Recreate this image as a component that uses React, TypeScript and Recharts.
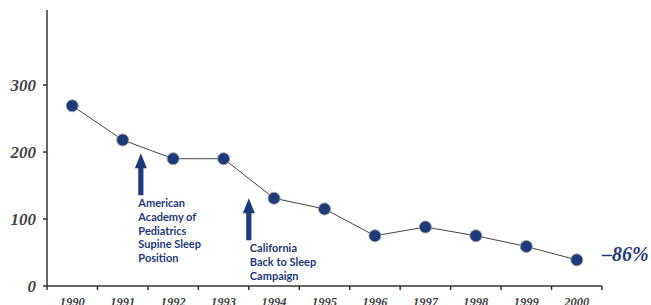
import React from 'react';
import { LineChart, Line, XAxis, YAxis, ReferenceDot } from 'recharts';

const years = ['1990', '1991', '1992', '1993', '1994', '1995', '1996', '1997', '1998', '1999', '2000'];
const deaths = [269, 218, 190, 190, 131, 115, 75, 88, 75, 59, 39];
const yTicks = [0, 100, 200, 300];

const annotationPos = [1.86, 4.0];
const annotationTip = [198, 131];
const annotationText = [
  ['American', 'Academy of', 'Pediatrics', 'Supine Sleep', 'Position'],
  ['California', 'Back to Sleep', 'Campaign'],
];
const changeLabel = '–86%';

const data = years.map((y, i) => ({ year: y, value: deaths[i], pos: i + 0.5 }));

const NAVY = '#1d3a7a';
const AXIS = '#333333';
const SERIF = '"Liberation Serif", "DejaVu Serif", serif';
const SANS = 'Lato, "Open Sans", sans-serif';

const YearTick = (props: any) => {
  const { x, y, payload, index, visibleTicksCount } = props;
  const off = payload.offset || 0;
  const axisY = y - 11;
  return (
    <g>
      <line x1={x - off} y1={axisY} x2={x - off} y2={axisY + 4} stroke={AXIS} strokeWidth={1.5} />
      {index === visibleTicksCount - 1 && (
        <line x1={x + off} y1={axisY} x2={x + off} y2={axisY + 4} stroke={AXIS} strokeWidth={1.5} />
      )}
      <text x={x} y={y} dy="0.71em" textAnchor="middle" fontFamily={SERIF} fontStyle="italic" fontWeight="bold" fontSize={12.5} fill="#444">
        {payload.value}
      </text>
    </g>
  );
};

const makeArrow = (lines: string[], textDx: number) => (props: any) => {
  const { cx, cy } = props;
  const headH = 15;
  const headW = 6;
  const shaftW = 2.6;
  const len = 42;
  const pts = [
    [cx, cy],
    [cx + headW, cy + headH],
    [cx + shaftW, cy + headH],
    [cx + shaftW, cy + len],
    [cx - shaftW, cy + len],
    [cx - shaftW, cy + headH],
    [cx - headW, cy + headH],
  ]
    .map((p) => p.join(','))
    .join(' ');
  return (
    <g>
      <polygon points={pts} fill={NAVY} />
      <text fontFamily={SANS} fontWeight="bold" fontSize={11} fill={NAVY}>
        {lines.map((l, i) => (
          <tspan key={i} x={cx + textDx} y={cy + 54 + i * 13.7}>
            {l}
          </tspan>
        ))}
      </text>
    </g>
  );
};

const ChangeLabel = (props: any) => {
  const { cx, cy } = props;
  return (
    <text x={cx} y={cy + 1} fontFamily={SERIF} fontStyle="italic" fontWeight="bold" fontSize={20} fill={NAVY}>
      {changeLabel}
    </text>
  );
};

export default function App() {
  return (
    <div style={{ position: 'absolute', left: 0, top: 0, background: '#fff' }}>
      <LineChart width={651} height={305} data={data} margin={{ top: 10, right: 49, bottom: 0, left: 0 }}>
        <XAxis
          xAxisId="cat"
          dataKey="year"
          scale="band"
          height={19}
          tickLine={false}
          tickSize={0}
          tickMargin={11}
          interval={0}
          axisLine={{ stroke: AXIS, strokeWidth: 1.5 }}
          tick={<YearTick />}
        />
        <XAxis xAxisId="num" dataKey="pos" type="number" domain={[0, 11]} allowDataOverflow hide />
        <YAxis
          width={47}
          domain={[0, 412]}
          ticks={yTicks}
          interval={0}
          tickSize={4}
          tickMargin={7}
          axisLine={{ stroke: AXIS, strokeWidth: 1.5 }}
          tickLine={{ stroke: AXIS, strokeWidth: 1.5 }}
          tick={{ fontFamily: SERIF, fontStyle: 'italic', fontWeight: 'bold', fontSize: 17, fill: '#444' }}
        />
        <Line
          xAxisId="cat"
          dataKey="value"
          stroke="#444"
          strokeWidth={1}
          isAnimationActive={false}
          dot={{ r: 6, fill: NAVY, stroke: '#9a9a9a', strokeWidth: 1 }}
        />
        {annotationText.map((lines, i) => (
          <ReferenceDot
            key={i}
            xAxisId="num"
            x={annotationPos[i]}
            y={annotationTip[i]}
            r={0}
            shape={makeArrow(lines, i === 0 ? -2.5 : 1)}
          />
        ))}
        <ReferenceDot
          xAxisId="num"
          x={11}
          y={deaths[deaths.length - 1]}
          r={0}
          ifOverflow="visible"
          shape={<ChangeLabel />}
        />
      </LineChart>
    </div>
  );
}
